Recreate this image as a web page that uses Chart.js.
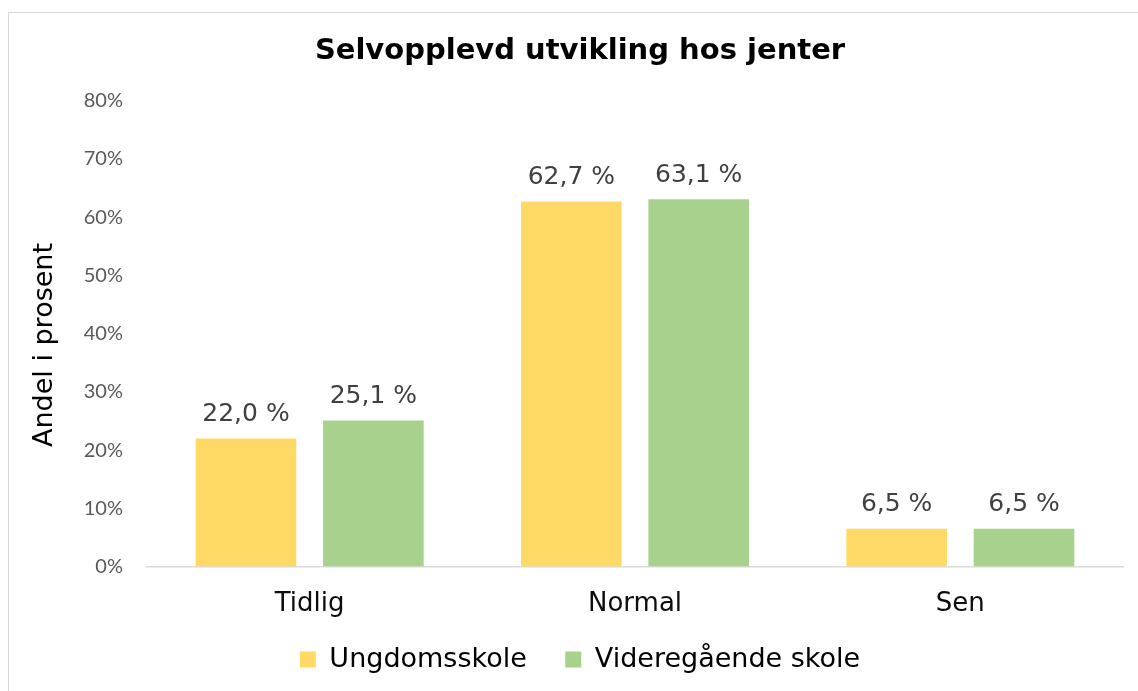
<!DOCTYPE html>
<html lang="no">
<head>
    <meta charset="UTF-8">
    <title>Selvopplevd utvikling hos jenter</title>
    <script src="https://cdn.jsdelivr.net/npm/chart.js"></script>
    <style>
        html, body { margin: 0; padding: 0; background: #fff; overflow: hidden; }
        #frame {
            position: absolute;
            left: 8px;
            top: 12px;
            width: 1142px;
            height: 690px;
            border: 1px solid #d9d9d9;
        }
        canvas { display: block; }
    </style>
</head>
<body>
    <div id="frame">
        <canvas id="utviklingChart" width="1142" height="670"></canvas>
    </div>

    <script>
        // Data
        const categories = ['Tidlig', 'Normal', 'Sen'];
        const ungdomsskole = [22.0, 62.7, 6.5];
        const videregaende = [25.1, 63.1, 6.5];
        const seriesNames = ['Ungdomsskole', 'Videregående skole'];
        const yTicks = [0, 10, 20, 30, 40, 50, 60, 70, 80];
        const yTitle = 'Andel i prosent';

        const FONT = "'DejaVu Sans', Verdana, sans-serif";

        // Writes "22,0 %" above each bar
        const barLabels = {
            id: 'barLabels',
            afterDatasetsDraw(chart) {
                const ctx = chart.ctx;
                ctx.save();
                ctx.font = '25px ' + FONT;
                ctx.fillStyle = '#404040';
                ctx.textAlign = 'center';
                ctx.textBaseline = 'alphabetic';
                chart.data.datasets.forEach((ds, i) => {
                    chart.getDatasetMeta(i).data.forEach((bar, j) => {
                        const txt = ds.data[j].toFixed(1).replace('.', ',') + ' %';
                        ctx.fillText(txt, bar.x, bar.y - 17.5);
                    });
                });
                ctx.restore();
            }
        };

        // Y axis title, sitting a bit lower than the plot centre like in Excel
        const axisTitle = {
            id: 'axisTitle',
            afterLayout(chart) {
                // x labels overhang into the legend strip, don't clip them
                chart.scales.x.bottom += 24;
            },
            afterDraw(chart) {
                const ctx = chart.ctx;
                ctx.save();
                ctx.translate(36, 332);
                ctx.rotate(-Math.PI / 2);
                ctx.font = '27px ' + FONT;
                ctx.fillStyle = '#000';
                ctx.textAlign = 'center';
                ctx.textBaseline = 'middle';
                ctx.fillText(yTitle, 0, 0);
                ctx.restore();
            }
        };

        const ctx = document.getElementById('utviklingChart').getContext('2d');
        new Chart(ctx, {
            type: 'bar',
            data: {
                labels: categories,
                datasets: [{
                    label: seriesNames[0],
                    data: ungdomsskole,
                    backgroundColor: '#ffd966',
                    categoryPercentage: 0.783,
                    barPercentage: 0.79
                }, {
                    label: seriesNames[1],
                    data: videregaende,
                    backgroundColor: '#a9d18e',
                    categoryPercentage: 0.783,
                    barPercentage: 0.79
                }]
            },
            plugins: [barLabels, axisTitle],
            options: {
                responsive: false,
                animation: false,
                plugins: {
                    title: {
                        display: true,
                        text: 'Selvopplevd utvikling hos jenter',
                        color: '#000',
                        font: { family: FONT, size: 29, weight: 'bold' },
                        padding: { top: 21, bottom: 32 }
                    },
                    legend: {
                        position: 'bottom',
                        labels: {
                            color: '#000',
                            font: { family: FONT, size: 27 },
                            boxWidth: 16,
                            boxHeight: 16,
                            padding: 38.5
                        }
                    },
                    tooltip: { enabled: false }
                },
                scales: {
                    x: {
                        afterFit(scale) { scale.height = 41; },
                        grid: { display: false, drawTicks: false },
                        border: { display: true, color: '#d9d9d9', width: 1.5 },
                        ticks: {
                            color: '#0d0d0d',
                            font: { family: FONT, size: 26 },
                            padding: 22
                        }
                    },
                    y: {
                        min: 0,
                        max: 80,
                        afterBuildTicks(scale) {
                            scale.ticks = yTicks.map(v => ({ value: v }));
                        },
                        afterFit(scale) { scale.width = 138; },
                        grid: { display: false, drawTicks: false },
                        border: { display: false },
                        ticks: {
                            color: '#595959',
                            font: { family: "Lato, 'Open Sans', sans-serif", size: 20 },
                            padding: 24,
                            callback: v => v + '%'
                        }
                    },
                    // empty strip on the right so title and legend stay centred on the frame
                    rightGap: {
                        position: 'right',
                        display: true,
                        grid: { display: false },
                        border: { display: false },
                        ticks: { display: false },
                        afterFit(scale) { scale.width = 28; }
                    }
                }
            }
        });
    </script>
</body>
</html>
